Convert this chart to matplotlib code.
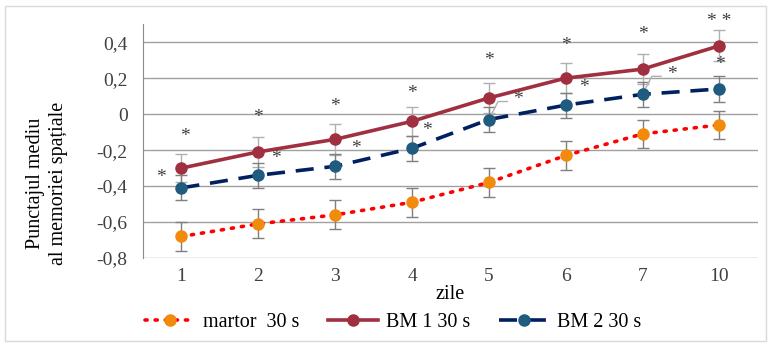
import matplotlib.pyplot as plt
from matplotlib.patches import Rectangle
from matplotlib.ticker import FuncFormatter

days = ["1", "2", "3", "4", "5", "6", "7", "10"]

martor = [-0.68, -0.61, -0.56, -0.49, -0.38, -0.23, -0.11, -0.06]
martor_err = [0.08, 0.08, 0.08, 0.08, 0.08, 0.08, 0.08, 0.08]
bm1 = [-0.30, -0.21, -0.14, -0.04, 0.09, 0.20, 0.25, 0.38]
bm1_err = [0.08, 0.085, 0.085, 0.08, 0.085, 0.085, 0.085, 0.085]
bm2 = [-0.41, -0.34, -0.29, -0.19, -0.03, 0.05, 0.11, 0.14]
bm2_err = [0.07, 0.07, 0.07, 0.07, 0.07, 0.07, 0.07, 0.07]

# significance marks
bm1_marks = ["*", "*", "*", "*", "*", "*", "*", "* *"]
bm2_marks = ["*", "*", "*", "*", "*", "*", "*", "*"]

plt.rcParams["font.family"] = ["Liberation Serif", "DejaVu Serif"]

fig = plt.figure(figsize=(7.71, 3.45), dpi=100)
fig.patches.append(Rectangle((0.006, 0.012), 0.988, 0.972, transform=fig.transFigure,
                             fill=False, edgecolor="#d9d9d9", linewidth=1))
ax = fig.add_axes([0.1855, 0.252, 0.7975, 0.678])

x = list(range(len(days)))

ax.errorbar(x, martor, yerr=martor_err, fmt="none", ecolor="#7f7f7f",
            elinewidth=1, capsize=4, capthick=1, zorder=2)
ax.errorbar(x, bm1, yerr=bm1_err, fmt="none", ecolor="#b0b0b0",
            elinewidth=1, capsize=4, capthick=1, zorder=2)
ax.errorbar(x, bm2, yerr=bm2_err, fmt="none", ecolor="#7f7f7f",
            elinewidth=1, capsize=4, capthick=1, zorder=2)

ax.plot(x, martor, color="#ff0000", linestyle=(0, (0.6, 2.2)), linewidth=2.6,
        dash_capstyle="round", marker="o", markersize=8,
        markerfacecolor="#f28a0c", markeredgecolor="#f28a0c",
        label="martor  30 s", zorder=3)
ax.plot(x, bm1, color="#a0303f", linewidth=2.6, marker="o", markersize=8,
        markerfacecolor="#a0303f", markeredgecolor="#a0303f",
        label="BM 1 30 s", zorder=3)
ax.plot(x, bm2, color="#002060", linestyle=(0, (5, 3)), linewidth=2.6,
        marker="o", markersize=8, markerfacecolor="#1f5c80",
        markeredgecolor="#1f5c80", label="BM 2 30 s", zorder=3)

# asterisks above BM1 points
bm1_dx = [0.04, 0, 0, 0, 0, 0, 0, 0]
bm1_dy = [0.175, 0.19, 0.18, 0.155, 0.21, 0.18, 0.19, 0.135]
for i, m in enumerate(bm1_marks):
    ax.text(i + bm1_dx[i], bm1[i] + bm1_dy[i], m, ha="center", va="center",
            fontsize=14, color="#404040")

# asterisks near BM2 points
bm2_dx = [-0.27, 0.23, 0.27, 0.2, 0.38, 0.23, 0.38, 0]
bm2_dy = [0.055, 0.095, 0.1, 0.1, 0.11, 0.1, 0.11, 0.135]
for i, m in enumerate(bm2_marks):
    ax.text(i + bm2_dx[i], bm2[i] + bm2_dy[i], m, ha="center", va="center",
            fontsize=14, color="#404040")

# leader lines for labels 5 and 7
for i in (4, 6):
    ax.plot([i + 0.01, i + 0.12, i + 0.24], [bm2[i] + 0.01, bm2[i] + 0.1, bm2[i] + 0.1],
            color="#b0b0b0", linewidth=1, zorder=2)

ax.set_xlim(-0.5, 7.5)
ax.set_ylim(-0.8, 0.5)
ax.set_yticks([-0.8, -0.6, -0.4, -0.2, 0, 0.2, 0.4])
ax.yaxis.set_major_formatter(FuncFormatter(
    lambda v, p: "0" if abs(v) < 1e-9 else f"{v:.1f}".replace(".", ",")))
ax.set_xticks(x)
ax.set_xticklabels(days)
ax.tick_params(axis="both", length=0, labelsize=14, colors="#404040", pad=7)
ax.tick_params(axis="y", pad=11)
ax.grid(axis="y", color="#a0a0a0", linewidth=1)
ax.set_axisbelow(True)
for s in ("top", "right", "bottom"):
    ax.spines[s].set_visible(False)
ax.spines["left"].set_color("#8c8c8c")

ax.set_xlabel("zile", fontsize=14.5, labelpad=0)
ax.set_ylabel("Punctajul mediu\nal memoriei spațiale", fontsize=14.5, linespacing=1.3)
ax.yaxis.set_label_coords(-0.122, 0.32)

fig.legend(loc="center", bbox_to_anchor=(0.51, 0.066), ncol=3, frameon=False,
           fontsize=14.5, handlelength=2.5, columnspacing=1.4, handletextpad=0.4)

fig.savefig("out.png", dpi=100)
